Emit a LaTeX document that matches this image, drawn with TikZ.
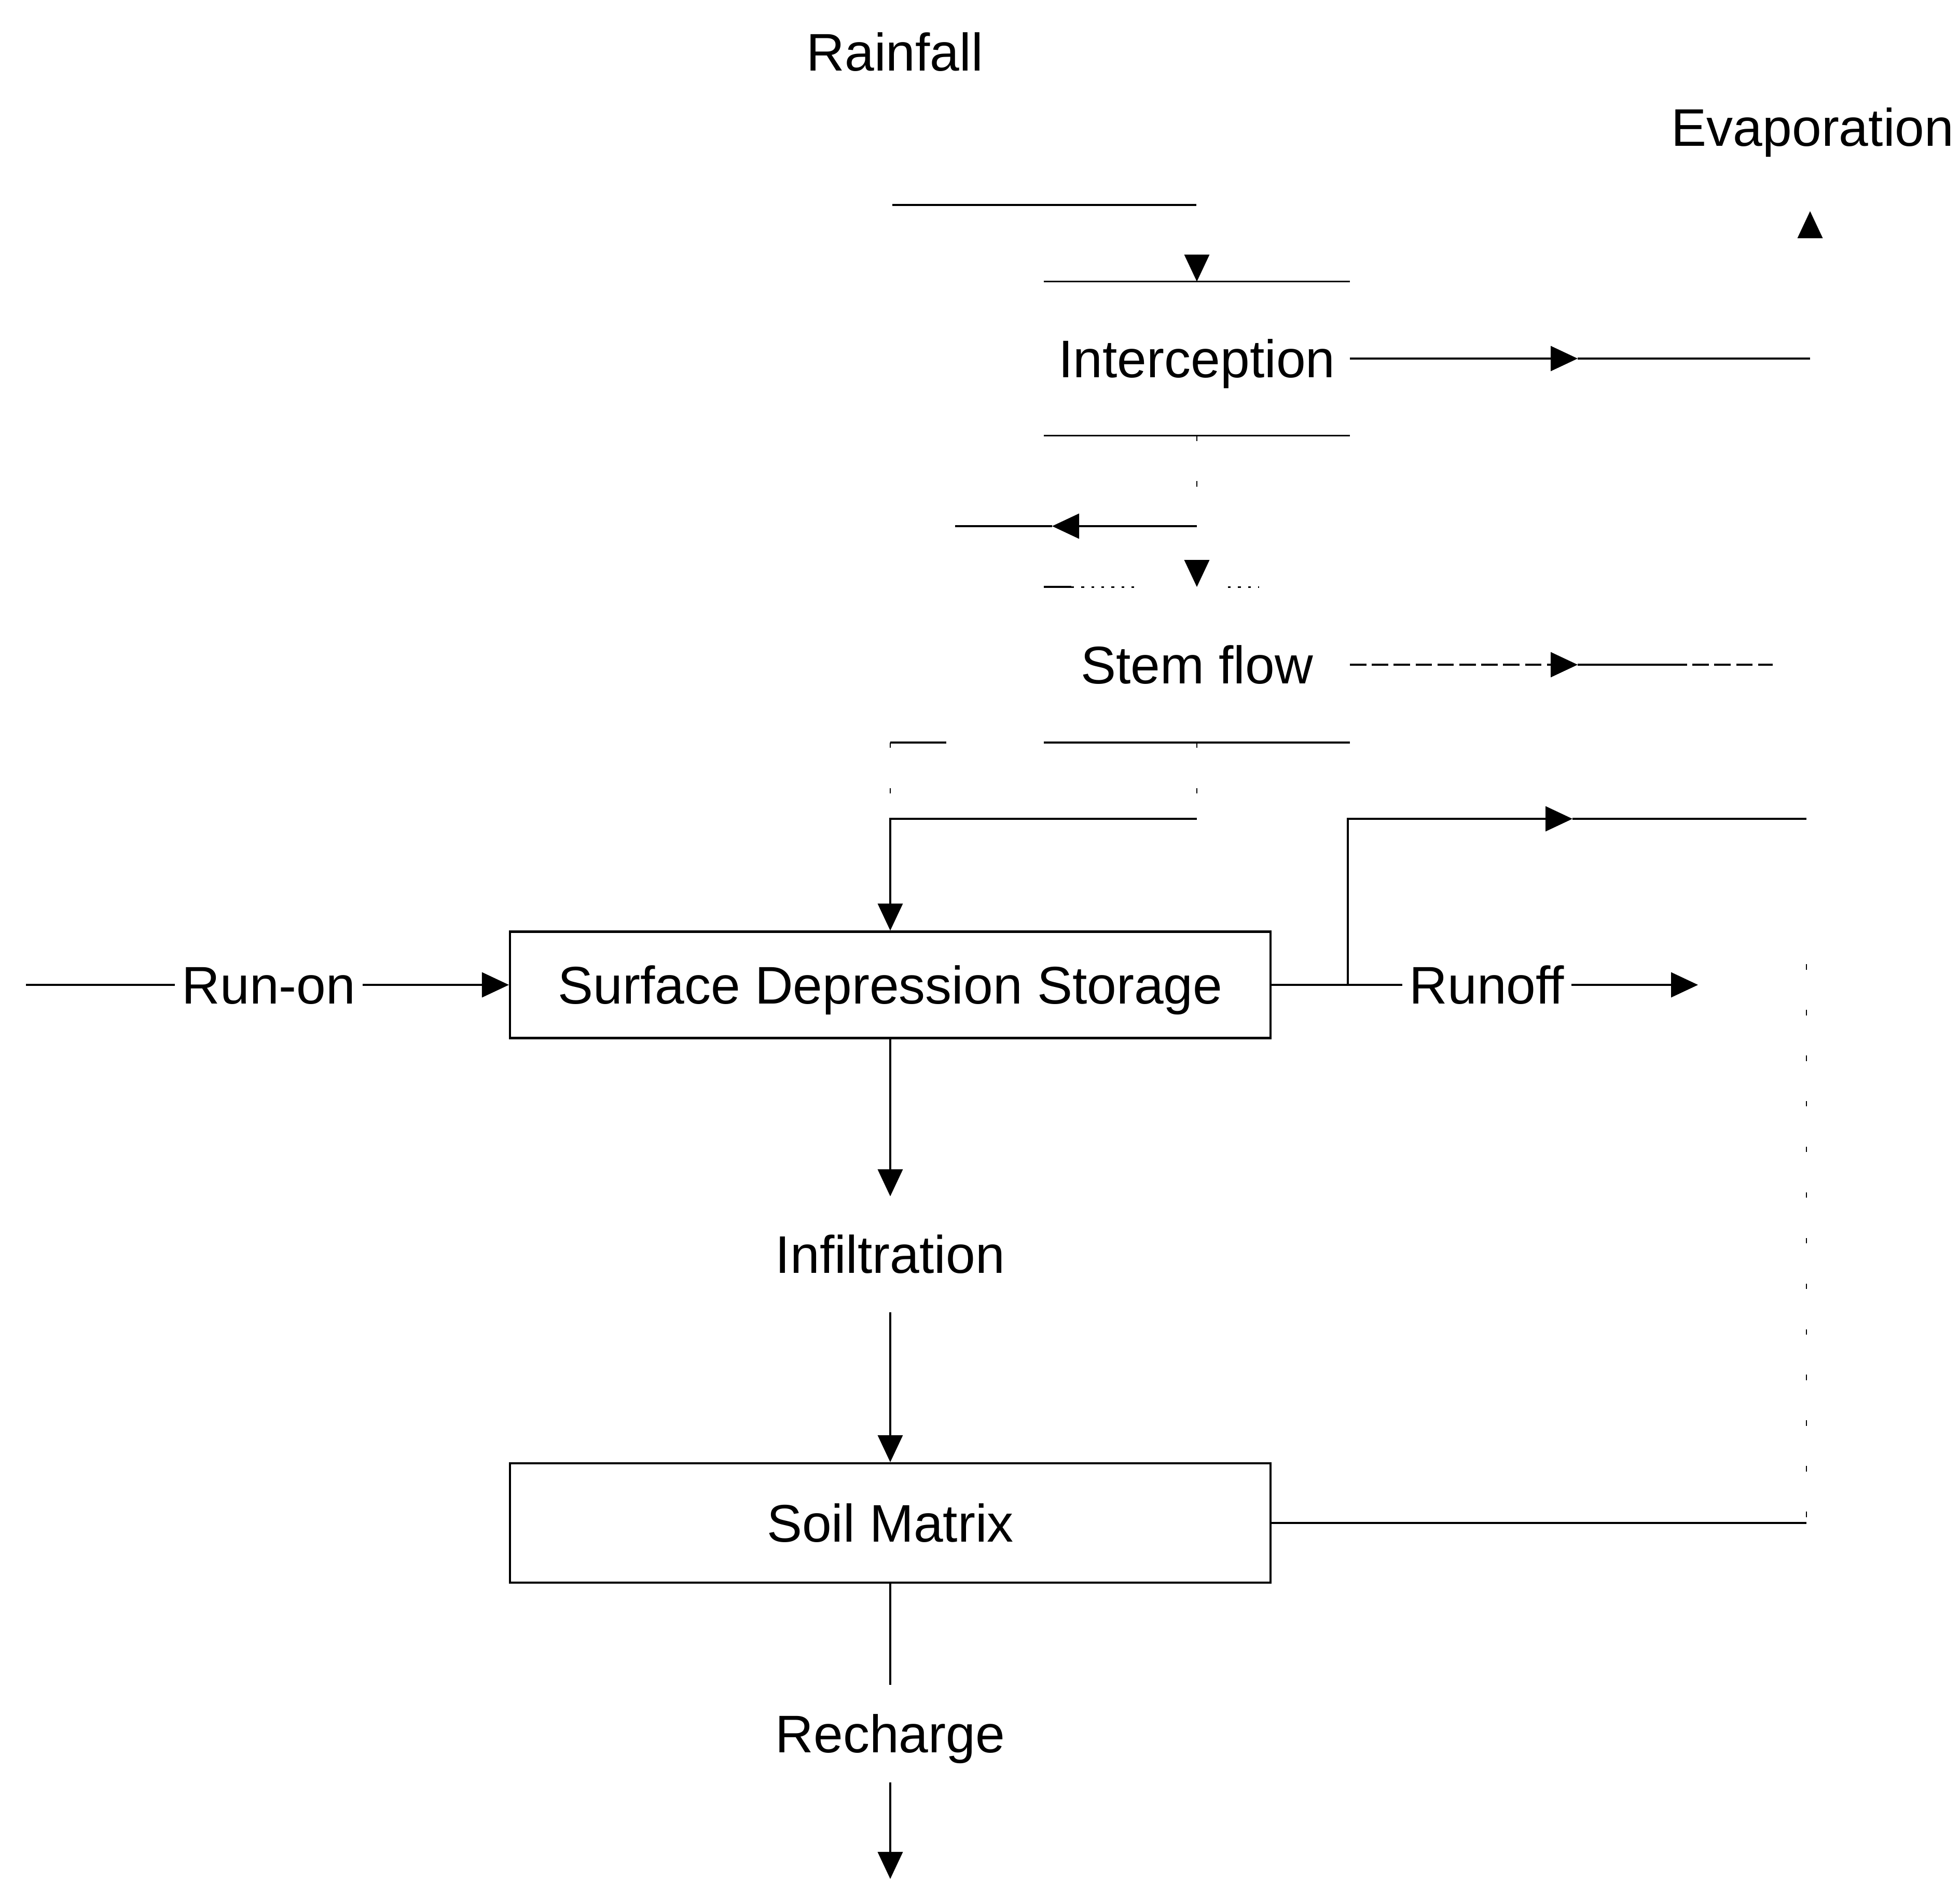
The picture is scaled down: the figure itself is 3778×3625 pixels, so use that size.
\documentclass[tikz,border=0pt]{standalone}
\usepackage{fontspec}
\setmainfont{Liberation Sans}
\usetikzlibrary{arrows.meta}

\begin{document}
\begin{tikzpicture}[x=0.01cm,y=-0.01cm,line width=1pt,
  >={Triangle[length=5.2mm,width=4.8mm]},
  font=\fontsize{29}{34}\selectfont,
  every node/.style={text height=20.9pt,text depth=0pt},
  lbl/.style={inner xsep=1.2mm,inner ysep=7.3mm},
  store/.style={draw,line width=1.2pt,minimum width=14.65cm,inner sep=0pt},
  layer/.style={minimum width=5.86cm,inner sep=0pt},
  faint/.style={line width=0.8pt,dash pattern=on 3pt off 22pt},
  dots/.style={line width=0.8pt,dash pattern=on 1.5pt off 4pt},
  broken/.style={dash pattern=on 9pt off 3pt}]
\path[fill=white,use as bounding box] (0,0) rectangle (3778,3625);

\node (rain) at (1725,100) {Rainfall};
\node (evap) at (3494,245) {Evaporation};
\node[layer,minimum height=2.93cm] (icpt) at (2307,691) {Interception};
\node[layer,minimum height=2.96cm] (stem) at (2307,1281) {Stem flow};
\node[store,minimum height=2.05cm] (sds) at (1716,1898) {Surface Depression Storage};
\node[lbl] (runon) at (518,1898) {Run-on};
\node[lbl] (runoff) at (2866,1898) {Runoff};
\node[lbl] (infil) at (1716,2417) {Infiltration};
\node[store,minimum height=2.3cm] (soil) at (1716,2935) {Soil Matrix};
\node[lbl,inner ysep=5.5mm] (rech) at (1716,3341) {Recharge};

\coordinate (rfa) at (1720,395);
\coordinate (rfb) at (2306,395);
\coordinate (ieva) at (3041,691);
\coordinate (ievb) at (3489,691);
\coordinate (evtip) at (3489,407);
\coordinate (sfork) at (2307,1014);
\coordinate (sfl) at (2028,1014);
\coordinate (sfe) at (1841,1014);
\coordinate (sarr) at (3041,1281);
\coordinate (sbrk) at (3220,1281);
\coordinate (send) at (3417,1281);
\coordinate (sfeed) at (2307,1578);
\coordinate (runin) at (50,1898);
\coordinate (roend) at (3273,1898);
\coordinate (rbend) at (2598,1898);
\coordinate (rarr) at (3031,1578);
\coordinate (rtop) at (3482,1578);
\coordinate (rbot) at (3482,2935);
\coordinate (sink) at (1716,3621);

% canopy
\draw (rfa) -- (rfb);
\draw[->] ([yshift=5.2mm]icpt.north) -- (icpt.north);
\draw (icpt.north west) -- (icpt.north east) (icpt.south west) -- (icpt.south east);
\draw[->] (icpt) -- (ieva);
\draw (ieva) -- (ievb);
\draw[->] ([yshift=-5.2mm]evtip) -- (evtip);
\draw[faint] (icpt.south) -- (sfork);
\draw[->] (sfork) -- (sfl);
\draw (sfl) -- (sfe);

% stem flow
\draw[->] ([yshift=5mm]stem.north) -- (stem.north);
\draw (stem.north west) -- ++(53,0);
\draw[dots] ([xshift=5.3mm]stem.north west) -- ++(125,0) ([xshift=6mm]stem.north) -- ++(60,0);
\draw[->,broken] (stem) -- (sarr);
\draw (sarr) -- (sbrk);
\draw[broken] (sbrk) -- (send);
\draw (stem.south west) -- (stem.south east);
\draw (sds.north |- stem.south) -- ++(108,0);
\draw[faint] (sds.north |- stem.south) -- (sds.north |- sfeed);
\draw[faint] (stem.south) -- (sfeed);
\draw[->] (sfeed) -| (sds.north);

% surface
\draw (runin) -- (runon);
\draw[->] (runon) -- (sds);
\draw (sds) -- (runoff);
\draw[->] (runoff) -- (roend);
\draw[->] (rbend) |- (rarr);
\draw (rarr) -- (rtop);
\draw[faint] ([yshift=-2.8cm]rtop) -- (rbot);
\draw (soil) -- (rbot);

% soil column
\path[->] (sds) edge (infil) (infil) edge (soil) (rech) edge (sink);
\draw (soil) -- (rech);
\end{tikzpicture}
\end{document}
